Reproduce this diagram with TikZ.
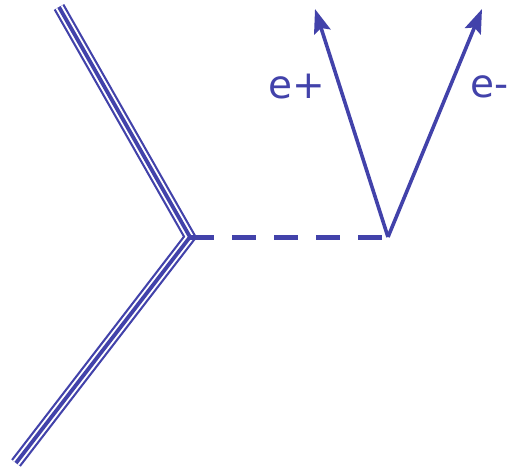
\documentclass[tikz,border=0pt]{standalone}
\usepackage{fontspec}
\setmainfont{DejaVu Sans}
\usetikzlibrary{arrows.meta}
\definecolor{blu}{RGB}{66,66,170}

\begin{document}
\begin{tikzpicture}[x=1pt, y=-1pt,
  triple/.style={draw=blu, line width=12pt, line join=miter,
    postaction={draw=white, line width=7.6pt},
    postaction={draw=blu, line width=3.8pt}},
  photon/.style={draw=blu, line width=5pt, dash pattern=on 24pt off 18pt},
  lepton/.style={draw=blu, line width=3.6pt, -{Stealth[length=24pt, width=17pt, inset=4pt]}},
  lbl/.style={text=blu, font=\fontsize{39}{40}\selectfont, inner sep=0pt}]
\useasboundingbox (0,0) rectangle (512,467);
% vertices
\coordinate (top) at (59,7);
\coordinate (v) at (190,237);
\coordinate (bot) at (16,463);
\coordinate (w) at (388,237);
\coordinate (pos) at (315,9);
\coordinate (neg) at (482,9);
% quark lines
\draw[triple] (top) -- (v) -- (bot);
% boson
\draw[photon] (v) -- (w);
% leptons
\draw[lepton] (w) -- (pos);
\draw[lepton] (w) -- (neg);
\node[lbl] (lp) at (297,87) {e+};
\node[lbl, anchor=west] (lm) at (470,87) {e-};
\end{tikzpicture}
\end{document}
